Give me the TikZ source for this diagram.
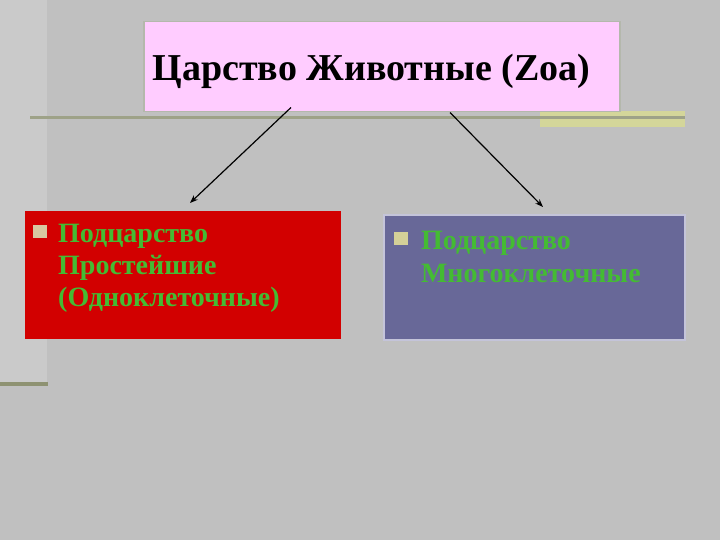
\documentclass[tikz,border=0pt]{standalone}
\usepackage{fontspec}
\setmainfont{Liberation Serif}
\usetikzlibrary{positioning,arrows.meta}

\definecolor{slidegray}{HTML}{C0C0C0}
\definecolor{stripgray}{HTML}{CACACA}
\definecolor{rulegreen}{HTML}{9EA288}
\definecolor{darkolive}{HTML}{8E9272}
\definecolor{bandyellow}{HTML}{D4D69A}
\definecolor{titlepink}{HTML}{FFCCFF}
\definecolor{titleframe}{HTML}{B4B8AC}
\definecolor{boxred}{HTML}{D20000}
\definecolor{boxblue}{HTML}{686898}
\definecolor{blueframe}{HTML}{C4C4DA}
\definecolor{textgreen}{HTML}{44BB33}
\definecolor{bulletred}{HTML}{D8C8A0}
\definecolor{bulletblue}{HTML}{D4D098}

\tikzset{
  panel/.style={anchor=north west, inner ysep=0pt, align=left},
  arrow/.style={draw=black, line width=1.2pt, -{Stealth[length=8pt,width=6pt]}},
}

\newcommand{\sqbullet}[1]{\textcolor{#1}{\raisebox{4pt}{\rule{14pt}{13pt}}}}

\begin{document}
\begin{tikzpicture}[x=1pt, y=-1pt]
  \useasboundingbox (0,0) rectangle (720,540);
  \fill[slidegray] (0,0) rectangle (720,540);
  % left strip and rules
  \fill[stripgray] (0,0) rectangle (47,384);
  \draw[darkolive, line width=4pt] (0,384) -- (48,384);
  \fill[bandyellow] (540,111) rectangle (685,127);
  \draw[rulegreen, line width=3pt] (30,117.5) -- (685,117.5);

  % title
  \node[panel, fill=titlepink, draw=titleframe, line width=1.5pt, inner xsep=9pt]
    (title) at (143,21)
    {\parbox[c][90pt][t]{458pt}{\fontsize{38}{42}\selectfont\bfseries
      \rule{0pt}{59pt}Царство Животные (Zoa)}};

  % subkingdoms
  \node[panel, fill=boxred, inner xsep=8pt] (left) at (25,211)
    {\parbox[c][128pt][t]{300pt}{\fontsize{28}{32}\selectfont\bfseries\color{textgreen}%
      \rule{0pt}{31pt}\makebox[25pt][l]{\sqbullet{bulletred}}Подцарство\\
      \hspace*{25pt}Простейшие\\
      \hspace*{25pt}(Одноклеточные)}};
  \node[panel, fill=boxblue, draw=blueframe, line width=2pt, inner xsep=10pt] (right) at (383,214)
    {\parbox[c][125pt][t]{281pt}{\fontsize{28}{33}\selectfont\bfseries\color{textgreen}%
      \rule{0pt}{34pt}\makebox[27pt][l]{\sqbullet{bulletblue}}Подцарство\\
      \hspace*{27pt}Многоклеточные}};

  % arrows
  \draw[arrow] ([shift={(148,-5)}]title.south west) -- ([shift={(165,-8)}]left.north west);
  \draw[arrow] ([shift={(307,0)}]title.south west) -- ([shift={(160,-7)}]right.north west);
\end{tikzpicture}
\end{document}
